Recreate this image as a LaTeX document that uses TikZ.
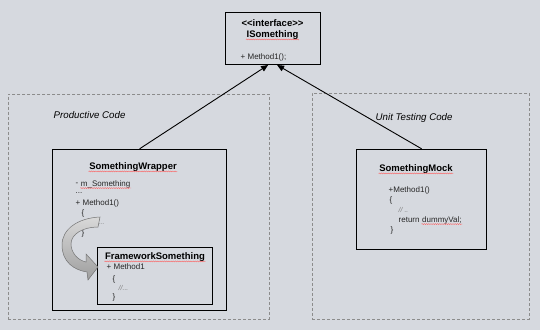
\documentclass[tikz,border=0pt]{standalone}
\usepackage{fontspec}
\setmainfont{Liberation Sans}
\usepackage{xcolor}
\usepackage{tikz}
\usetikzlibrary{arrows.meta,positioning,decorations.pathmorphing}
\definecolor{slide}{RGB}{214,217,223}

\begin{document}
\begin{tikzpicture}[
  x=1pt,
  y=1pt,
  font=\fontsize{8}{9.5}\selectfont,
  >={Triangle[length=7pt,width=6pt]},
  canvas/.style={fill=slide, draw=none},
  region/.style={draw=black!45, densely dashed, line width=0.5pt,
    anchor=south west, inner sep=0pt},
  classbox/.style={draw=black, line width=1.2pt, anchor=south west, inner sep=0pt},
  title/.style={font=\fontsize{9.5}{11}\selectfont\bfseries, inner sep=0.5pt},
  member/.style={anchor=west, inner sep=0.5pt, text=black!85},
  faint/.style={member, text=black!50, font=\fontsize{7}{8}\selectfont\itshape},
  area/.style={font=\fontsize{9.7}{11}\selectfont\itshape, anchor=west, inner sep=0.5pt},
  inherit/.style={->, line width=0.9pt, draw=black},
  spell/.style={draw=red!65, line width=0.35pt, decorate,
    decoration={snake, amplitude=0.5pt, segment length=2.2pt}},
  swoosh/.style={draw=black!55, line width=0.5pt, top color=black!15,
    bottom color=black!38}
]

% Slide background fixes the page size.
\path[canvas] (0,0) rectangle (540,330);

% Dashed areas for the two code bases.
\node[region, minimum width=261pt, minimum height=225pt] (prod) at (8,11) {};
\node[region, minimum width=217pt, minimum height=226pt] (unit) at (312,11) {};
\node[area] (prodlbl) at (53,215) {Productive Code};
\node[area] (unitlbl) at (375,212) {Unit Testing Code};

% Interface on top.
\node[classbox, minimum width=95pt, minimum height=52pt] (iface) at (225,265) {};
\node[title] (stereo) at (272.5,307) {<\kern0pt<interface>\kern0pt>};
\node[title] (ifname) at (272.5,295) {ISomething};
\node[member] (ifop) at (240,273) {+ Method1();};

% Wrapper around the framework class.
\node[classbox, minimum width=174pt, minimum height=161pt] (wrapper) at (52,19) {};
\node[title] (wraptitle) at (133,163) {SomethingWrapper};
\node[member] (wdash) at (75,146) {-};
\node[member, right=1.2pt of wdash] (wfield) {m\_Something};
\node[member] (wdots) at (75,137) {...};
\node[member] (wop) at (75,127) {+ Method1()};
\node[member] (wopen) at (81,117) {\{};
\node[faint] (wbody) at (98,106) {...};
\node[member] (wclose) at (81,97) {\}};

\node[classbox, minimum width=115pt, minimum height=57pt] (frame) at (97,25) {};
\node[title] (frametitle) at (155,73) {FrameworkSomething};
\node[member] (fop) at (106,63) {+ Method1};
\node[member] (fopen) at (112,51) {\{};
\node[faint] (fbody) at (118,42) {//...};
\node[member] (fclose) at (112,33) {\}};

% Delegation swoosh from the wrapper body into the framework class.
\path[swoosh] (100,113) .. controls (78,112) and (62,101) .. (62,85)
  .. controls (62,68) and (74,60) .. (87,58) -- (88,50) -- (98,63)
  -- (86,76) -- (86,68) .. controls (77,70) and (71,78) .. (71,86)
  .. controls (71,96) and (83,103) .. (98,103) -- cycle;

% Mock used by the tests.
\node[classbox, minimum width=130pt, minimum height=100pt] (mock) at (356,80) {};
\node[title] (mocktitle) at (416,161) {SomethingMock};
\node[member] (mop) at (388,140) {+Method1()};
\node[member] (mopen) at (389,130) {\{};
\node[faint] (mbody) at (398,120) {// ..};
\node[member] (mret) at (398,110) {return};
\node[member, right=1.2pt of mret] (mval) {dummyVal;};
\node[member] (mclose) at (390,100) {\}};

% Both classes realise the interface.
\draw[inherit] (wrapper.north) -- ([xshift=-5pt]iface.south);
\draw[inherit] (mock.north) -- ([xshift=4pt]iface.south);

% Spell checker marks.
\foreach \n in {ifname,wraptitle,wfield,frametitle,mocktitle,mval}
  \draw[spell] ([yshift=-2pt]\n.base west) -- ([yshift=-2pt]\n.base east);

\end{tikzpicture}
\end{document}
